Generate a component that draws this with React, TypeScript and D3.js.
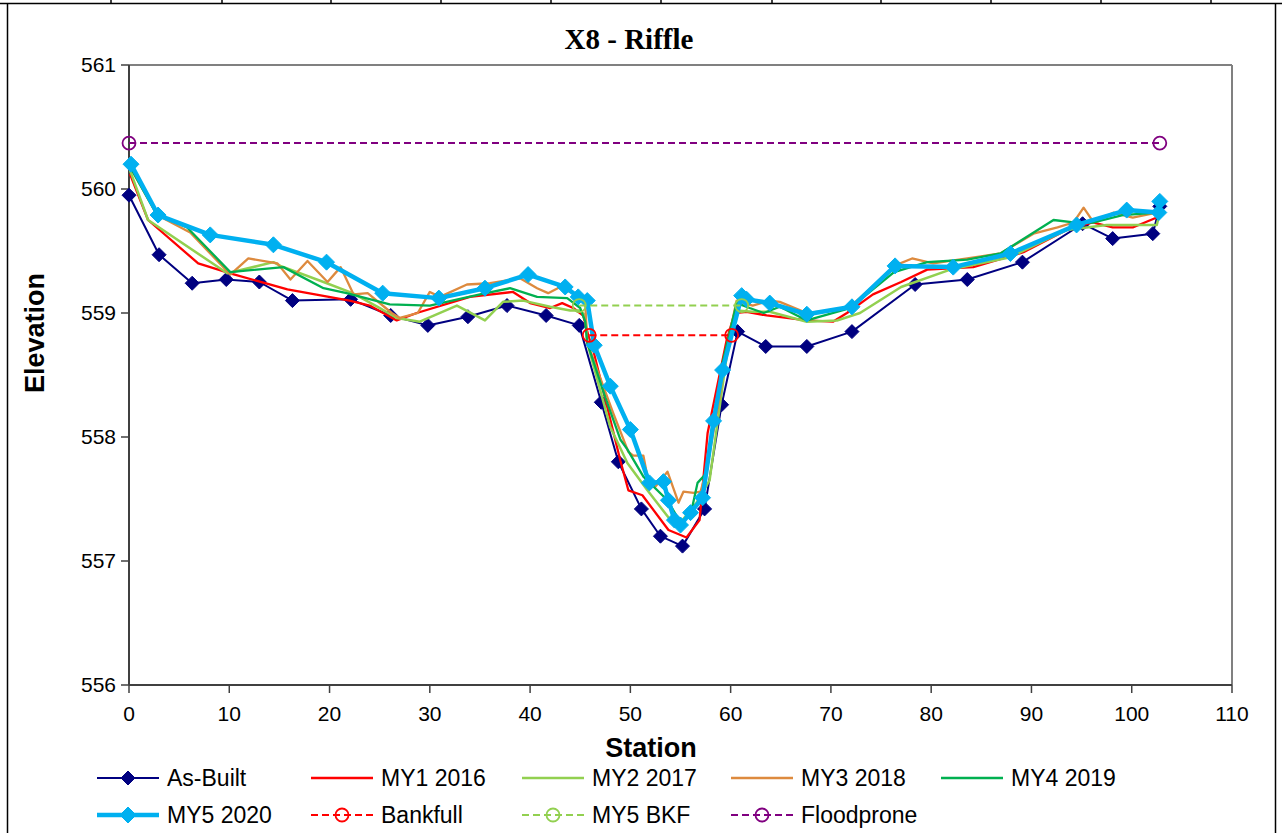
import React from "react";
import * as d3 from "d3";

type P = [number, number];

const asBuilt: P[] = [[0,559.95],[3.0,559.47],[6.3,559.24],[9.7,559.27],[13.0,559.25],[16.3,559.10],[22.1,559.11],[26.1,558.98],[29.8,558.90],[33.8,558.97],[37.7,559.06],[41.6,558.98],[44.9,558.90],[47.1,558.28],[48.8,557.80],[51.1,557.42],[53.0,557.20],[55.2,557.12],[57.4,557.42],[59.1,558.26],[60.7,558.85],[63.5,558.73],[67.6,558.73],[72.1,558.85],[78.4,559.23],[83.6,559.27],[89.1,559.41],[95.1,559.72],[98.1,559.60],[102.1,559.64],[102.8,559.86]];

const my1: P[] = [[0.1,560.12],[1.9,559.75],[6.9,559.40],[10.1,559.32],[15.8,559.19],[22.0,559.10],[24.0,559.06],[26.7,558.94],[28.7,559.0],[34.0,559.13],[38.3,559.17],[40.0,559.08],[42.0,559.04],[43.2,559.08],[44.3,559.04],[45.3,558.98],[45.8,558.82],[46.3,558.70],[49.0,557.81],[49.8,557.57],[51.2,557.53],[53.8,557.25],[55.6,557.19],[56.9,557.33],[57.7,558.03],[59.6,558.78],[60.4,559.0],[61.6,559.01],[63.6,558.98],[67.6,558.94],[70.2,558.93],[71.6,559.0],[74.2,559.15],[77.0,559.25],[79.6,559.35],[84.2,559.37],[89.2,559.49],[93.5,559.67],[96.1,559.73],[98.1,559.69],[100.1,559.69],[102.5,559.77],[102.8,559.80]];

const my2: P[] = [[0.1,560.15],[1.9,559.75],[9.8,559.32],[14.4,559.41],[15.1,559.38],[19.4,559.25],[22.3,559.16],[24.8,559.05],[26.7,558.96],[29.0,558.93],[32.7,559.06],[35.5,558.94],[37.3,559.09],[39.3,559.10],[42.0,559.05],[44.0,559.02],[45.0,559.02],[45.5,558.98],[45.7,558.76],[48.0,558.08],[49.7,557.79],[51.7,557.57],[54.0,557.33],[55.0,557.31],[56.6,557.47],[57.9,557.65],[59.6,558.65],[60.6,559.02],[62.2,559.01],[63.9,559.01],[67.6,558.93],[70.6,558.94],[72.9,559.0],[77.0,559.21],[81.9,559.35],[87.9,559.45],[93.5,559.67],[97.5,559.71],[102.5,559.71],[102.8,559.81]];

const my3: P[] = [[0.1,560.18],[2.8,559.79],[6.1,559.65],[10.1,559.31],[11.9,559.44],[14.8,559.40],[16.1,559.27],[17.8,559.42],[19.8,559.25],[21.1,559.37],[22.4,559.15],[23.8,559.16],[26.2,559.0],[27.0,558.96],[28.8,559.0],[30.0,559.17],[31.0,559.13],[33.7,559.23],[36.0,559.24],[39.0,559.28],[40.7,559.20],[41.8,559.16],[43.0,559.21],[44.0,559.17],[45.0,559.13],[45.5,559.08],[45.7,558.76],[48.3,558.19],[49.8,557.88],[50.3,557.85],[51.3,557.85],[51.8,557.64],[52.5,557.60],[53.7,557.72],[54.8,557.47],[55.3,557.56],[56.3,557.55],[57.0,557.56],[57.6,557.73],[58.9,558.32],[59.7,558.76],[60.6,559.10],[62.2,559.06],[63.9,559.10],[64.9,559.09],[67.6,559.0],[68.9,559.01],[71.9,559.05],[76.6,559.39],[78.1,559.44],[80.2,559.40],[83.6,559.44],[86.9,559.48],[90.2,559.64],[92.6,559.69],[94.2,559.73],[95.2,559.85],[96.2,559.73],[98.2,559.81],[100.1,559.77],[102.5,559.81],[102.8,559.82]];

const my4: P[] = [[0.1,560.18],[2.8,559.79],[5.8,559.69],[10.1,559.33],[15.4,559.37],[19.4,559.20],[21.7,559.16],[26.0,559.07],[30.0,559.06],[35.0,559.15],[38.0,559.20],[40.7,559.13],[43.7,559.12],[45.0,559.04],[45.5,558.93],[45.7,558.76],[47.5,558.32],[49.0,557.98],[49.7,557.90],[51.3,557.68],[53.7,557.49],[55.0,557.31],[56.0,557.37],[56.7,557.63],[57.6,557.71],[59.2,558.60],[60.6,559.08],[61.9,559.04],[63.3,559.0],[64.9,559.05],[67.6,558.94],[71.9,559.04],[76.3,559.33],[79.6,559.41],[83.6,559.43],[86.9,559.48],[92.2,559.75],[94.2,559.73],[96.2,559.73],[99.1,559.79],[102.5,559.81],[102.8,559.81]];

const my5: P[] = [[0.2,560.20],[2.9,559.79],[8.1,559.63],[14.4,559.55],[19.7,559.41],[25.3,559.16],[30.9,559.12],[35.5,559.20],[39.8,559.31],[43.5,559.21],[44.8,559.13],[45.7,559.10],[46.4,558.74],[48.0,558.41],[50.0,558.06],[51.9,557.63],[53.3,557.64],[53.8,557.49],[54.4,557.33],[55.0,557.29],[56.0,557.39],[57.2,557.51],[58.3,558.13],[59.2,558.54],[61.1,559.14],[61.6,559.11],[63.9,559.08],[67.6,558.99],[72.1,559.05],[76.4,559.38],[82.2,559.37],[87.9,559.48],[94.5,559.71],[99.5,559.83],[102.7,559.81],[102.8,559.90]];

const bankfull: P[] = [[45.9,558.82],[60.1,558.82]];
const my5Bkf: P[] = [[44.9,559.06],[61.1,559.06]];
const floodprone: P[] = [[0,560.37],[102.8,560.37]];

const xTicks = [0,10,20,30,40,50,60,70,80,90,100,110];
const yTicks = [556,557,558,559,560,561];
const topTicks = [111,222,331,441,551,661,772,881,991,1101,1211];

type Series = {
  name: string; data: P[]; color: string; width: number;
  marker?: "diamond" | "circle"; size?: number; dash?: string;
};

const series: Series[] = [
  { name: "As-Built", data: asBuilt, color: "#000080", width: 2, marker: "diamond", size: 7 },
  { name: "MY1 2016", data: my1, color: "#FF0000", width: 2.3 },
  { name: "MY2 2017", data: my2, color: "#92D050", width: 2.5 },
  { name: "MY3 2018", data: my3, color: "#DD8A3E", width: 2.3 },
  { name: "MY4 2019", data: my4, color: "#00B050", width: 2.3 },
  { name: "MY5 2020", data: my5, color: "#00B0F0", width: 4.5, marker: "diamond", size: 8 },
  { name: "Bankfull", data: bankfull, color: "#FF0000", width: 2, marker: "circle", size: 6.5, dash: "7,4" },
  { name: "MY5 BKF", data: my5Bkf, color: "#92D050", width: 2, marker: "circle", size: 6.5, dash: "7,4" },
  { name: "Floodprone", data: floodprone, color: "#800080", width: 2, marker: "circle", size: 6.5, dash: "7,4" },
];

const x = d3.scaleLinear().domain([0, 110]).range([129, 1232]);
const y = d3.scaleLinear().domain([556, 561]).range([685, 65]);
const line = d3.line<P>().x(d => x(d[0])).y(d => y(d[1]));

function Marker({ s, cx, cy }: { s: Series; cx: number; cy: number }) {
  const r = s.size || 6;
  if (s.marker === "diamond") {
    return <path d={`M${cx},${cy - r}L${cx + r},${cy}L${cx},${cy + r}L${cx - r},${cy}Z`} fill={s.color} stroke={s.color} strokeWidth={1} />;
  }
  if (s.marker === "circle") {
    return <circle cx={cx} cy={cy} r={r} fill="none" stroke={s.color} strokeWidth={1.8} />;
  }
  return null;
}

const legendCols = [97, 311, 522, 731, 941];
const legendRows = [778, 815];

export default function App() {
  const sans = "'Liberation Sans', Arial, sans-serif";
  return (
    <svg width={1282} height={833} style={{ position: "absolute", left: 0, top: 0, background: "#fff" }}>
      <rect x={0} y={0} width={1282} height={833} fill="#fff" />
      <line x1={0} y1={3.5} x2={1282} y2={3.5} stroke="#000" strokeWidth={1.5} />
      {topTicks.map(t => <line key={t} x1={t} y1={0} x2={t} y2={4} stroke="#000" strokeWidth={1.5} />)}
      <line x1={7.5} y1={3} x2={7.5} y2={833} stroke="#000" strokeWidth={1.5} />
      <line x1={1275.5} y1={3} x2={1275.5} y2={833} stroke="#000" strokeWidth={1.5} />

      <text x={629} y={49} textAnchor="middle" fontFamily="'Liberation Serif', 'Times New Roman', serif" fontWeight="bold" fontSize={29}>X8 - Riffle</text>

      <line x1={129} y1={65} x2={1232} y2={65} stroke="#808080" strokeWidth={2} />
      <line x1={1232} y1={65} x2={1232} y2={685} stroke="#808080" strokeWidth={2} />
      <line x1={129} y1={685} x2={1232} y2={685} stroke="#404040" strokeWidth={2} />
      <line x1={129} y1={65} x2={129} y2={685} stroke="#404040" strokeWidth={2} />

      {yTicks.map(t => (
        <g key={t}>
          <line x1={121} x2={129} y1={y(t)} y2={y(t)} stroke="#404040" strokeWidth={1.5} />
          <text x={116} y={y(t)} dy="0.35em" textAnchor="end" fontFamily={sans} fontSize={21}>{t}</text>
        </g>
      ))}
      {xTicks.map(t => (
        <g key={t}>
          <line x1={x(t)} x2={x(t)} y1={685} y2={693} stroke="#404040" strokeWidth={1.5} />
          <text x={x(t)} y={714} dy="0.35em" textAnchor="middle" fontFamily={sans} fontSize={21}>{t}</text>
        </g>
      ))}

      <text x={651} y={748} dy="0.35em" textAnchor="middle" fontFamily={sans} fontWeight="bold" fontSize={27}>Station</text>
      <text transform={`translate(35,333) rotate(-90)`} dy="0.35em" textAnchor="middle" fontFamily={sans} fontWeight="bold" fontSize={27}>Elevation</text>

      {series.map(s => (
        <g key={s.name}>
          <path d={line(s.data) || ""} fill="none" stroke={s.color} strokeWidth={s.width} strokeDasharray={s.dash} strokeLinejoin="round" />
          {s.marker && s.data.map((d, i) => <Marker key={i} s={s} cx={x(d[0])} cy={y(d[1])} />)}
        </g>
      ))}

      {series.map((s, i) => {
        const lx = legendCols[i % 5];
        const ly = legendRows[Math.floor(i / 5)];
        return (
          <g key={"lg" + s.name}>
            <line x1={lx} x2={lx + 62} y1={ly} y2={ly} stroke={s.color} strokeWidth={s.width} strokeDasharray={s.dash} />
            {s.marker && <Marker s={s} cx={lx + 31} cy={ly} />}
            <text x={lx + 70} y={ly} dy="0.35em" fontFamily={sans} fontSize={23}>{s.name}</text>
          </g>
        );
      })}
    </svg>
  );
}
